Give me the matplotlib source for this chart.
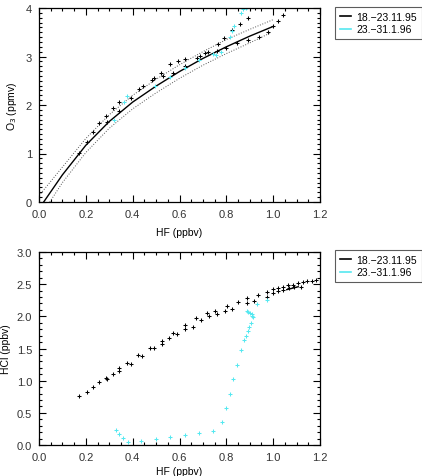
import matplotlib
matplotlib.use("Agg")
import matplotlib.pyplot as plt
from matplotlib.ticker import MultipleLocator, FormatStrFormatter

plt.rcParams["font.family"] = ["Liberation Sans", "DejaVu Sans"]

# ==========================================
# Data
# ==========================================

# Top panel - O3 vs HF, 18.-23.11.95
o3_hf_nov = [0.172, 0.206, 0.229, 0.258, 0.286, 0.292, 0.315, 0.340, 0.343, 0.391,
             0.428, 0.443, 0.481, 0.491, 0.521, 0.528, 0.559, 0.571, 0.592, 0.623,
             0.623, 0.673, 0.687, 0.709, 0.723, 0.760, 0.763, 0.791, 0.798, 0.825,
             0.847, 0.858, 0.891, 0.893, 0.922, 0.938, 0.976, 0.999, 1.019, 1.040]
o3_nov = [1.01, 1.24, 1.45, 1.63, 1.78, 1.64, 1.93, 2.07, 1.87, 2.14,
          2.33, 2.39, 2.52, 2.55, 2.67, 2.59, 2.85, 2.66, 2.91, 2.95,
          2.81, 2.96, 3.02, 3.07, 3.10, 3.12, 3.25, 3.39, 3.17, 3.54,
          3.27, 3.66, 3.79, 3.35, 3.99, 3.41, 3.51, 3.63, 3.73, 3.86]

# Top panel - O3 vs HF, 23.-31.1.96
o3_hf_jan = [0.322, 0.363, 0.376, 0.495, 0.559, 0.623, 0.683, 0.744, 0.757, 0.778,
             0.815, 0.826, 0.834, 0.862, 0.872, 0.882, 0.890]
o3_jan = [1.70, 2.07, 2.18, 2.40, 2.58, 2.76, 2.92, 3.05, 3.04, 3.10,
          3.41, 3.53, 3.62, 3.89, 3.97, 4.00, 4.02]

# Fit curve and its error band
fit_hf = [0.02, 0.10, 0.20, 0.30, 0.40, 0.50, 0.60, 0.70, 0.80, 0.90, 1.00]
fit_o3 = [0.00, 0.56, 1.17, 1.66, 2.06, 2.39, 2.69, 2.96, 3.20, 3.42, 3.62]
upper_hf = [0.00, 0.10, 0.20, 0.30, 0.40, 0.50, 0.60, 0.70, 0.80, 0.90, 1.00]
upper_o3 = [0.13, 0.72, 1.31, 1.80, 2.20, 2.53, 2.83, 3.10, 3.35, 3.56, 3.76]
lower_hf = [0.046, 0.10, 0.20, 0.30, 0.40, 0.50, 0.60, 0.70, 0.80, 0.90, 0.99]
lower_o3 = [0.00, 0.40, 1.02, 1.52, 1.92, 2.25, 2.55, 2.82, 3.06, 3.28, 3.49]

# Bottom panel - HCl vs HF, 18.-23.11.95
hcl_hf_nov = [0.172, 0.204, 0.229, 0.258, 0.286, 0.289, 0.315, 0.340, 0.342, 0.374,
              0.391, 0.424, 0.441, 0.474, 0.491, 0.524, 0.524, 0.557, 0.574, 0.591,
              0.623, 0.623, 0.659, 0.670, 0.692, 0.716, 0.726, 0.751, 0.759, 0.794,
              0.801, 0.823, 0.848, 0.889, 0.889, 0.919, 0.936, 0.972, 0.975, 1.000,
              1.000, 1.022, 1.022, 1.043, 1.044, 1.065, 1.066, 1.086, 1.090, 1.107,
              1.120, 1.129, 1.146, 1.165, 1.183]
hcl_nov = [0.76, 0.83, 0.90, 0.975, 1.04, 1.02, 1.11, 1.15, 1.19, 1.27,
           1.26, 1.40, 1.39, 1.51, 1.51, 1.62, 1.57, 1.66, 1.74, 1.73,
           1.87, 1.80, 1.83, 1.97, 1.95, 2.05, 2.00, 2.09, 2.04, 2.08,
           2.16, 2.12, 2.22, 2.28, 2.20, 2.24, 2.33, 2.38, 2.30, 2.42,
           2.37, 2.44, 2.40, 2.46, 2.41, 2.48, 2.44, 2.49, 2.45, 2.52,
           2.45, 2.53, 2.55, 2.555, 2.57]
hcl_line_hf = [1.058, 1.080, 1.107]
hcl_line = [2.415, 2.435, 2.46]

# Bottom panel - HCl vs HF, 23.-31.1.96
hcl_hf_jan = [0.327, 0.343, 0.360, 0.379, 0.434, 0.498, 0.560, 0.623, 0.683, 0.745,
              0.780, 0.797, 0.816, 0.830, 0.847, 0.862, 0.877, 0.884, 0.891, 0.898,
              0.904, 0.911, 0.887, 0.894, 0.901, 0.908, 0.912, 0.930, 0.972]
hcl_jan = [0.233, 0.171, 0.104, 0.052, 0.062, 0.093, 0.124, 0.160, 0.190, 0.22,
           0.36, 0.58, 0.80, 1.03, 1.24, 1.47, 1.63, 1.70, 1.77, 1.83,
           1.90, 2.01, 2.09, 2.07, 2.05, 2.03, 1.99, 2.19, 2.26]

labels = ["18.\u221223.11.95", "23.\u221231.1.96"]
cyan = "#55e8f0"

# ==========================================
# Figure
# ==========================================

fig = plt.figure(figsize=(4.22, 4.77), dpi=100)

W, H = 422.0, 477.0
ax1 = fig.add_axes([39 / W, 1 - 203 / H, 281 / W, 194 / H])
ax2 = fig.add_axes([39 / W, 1 - 446 / H, 281 / W, 193 / H])

mk = dict(marker="+", linestyle="none", markersize=3, markeredgewidth=0.75)

# Top panel
ax1.plot(upper_hf, upper_o3, color="#555555", linestyle=":", linewidth=0.7)
ax1.plot(lower_hf, lower_o3, color="#555555", linestyle=":", linewidth=0.7)
ax1.plot(fit_hf, fit_o3, color="black", linewidth=1.0)
ax1.plot(o3_hf_nov, o3_nov, color="black", **mk)
ax1.plot(o3_hf_jan, o3_jan, color=cyan, **mk)
ax1.set_xlim(0, 1.2)
ax1.set_ylim(0, 4)
ax1.yaxis.set_major_locator(MultipleLocator(1))
ax1.yaxis.set_minor_locator(MultipleLocator(0.1))
ax1.yaxis.set_major_formatter(FormatStrFormatter("%d"))
ax1.set_ylabel("O$_3$ (ppmv)", fontsize=7.5, labelpad=5)
ax1.set_xlabel("HF (ppbv)", fontsize=7.5, labelpad=6)

# Bottom panel
ax2.plot(hcl_hf_nov, hcl_nov, color="black", **mk)
ax2.plot(hcl_line_hf, hcl_line, color="black", linewidth=1.0)
ax2.plot(hcl_hf_jan, hcl_jan, color=cyan, **mk)
ax2.set_xlim(0, 1.2)
ax2.set_ylim(0, 3)
ax2.yaxis.set_major_locator(MultipleLocator(0.5))
ax2.yaxis.set_minor_locator(MultipleLocator(0.1))
ax2.yaxis.set_major_formatter(FormatStrFormatter("%.1f"))
ax2.set_ylabel("HCl (ppbv)", fontsize=7.5, labelpad=4)
ax2.set_xlabel("HF (ppbv)", fontsize=7.5, labelpad=3)

for ax in (ax1, ax2):
    ax.xaxis.set_major_locator(MultipleLocator(0.2))
    ax.xaxis.set_minor_locator(MultipleLocator(0.05))
    ax.xaxis.set_major_formatter(FormatStrFormatter("%.1f"))
    ax.tick_params(which="both", direction="in", top=True, right=True,
                   labelsize=8, labelcolor="#333333", width=0.8)
    ax.tick_params(which="major", length=5, pad=5)
    ax.tick_params(which="minor", length=2.5)
    for s in ax.spines.values():
        s.set_linewidth(0.9)

# Legends
handles = [plt.Line2D([], [], color="black", linewidth=1.2),
           plt.Line2D([], [], color=cyan, linewidth=1.2)]
for ytop in (8, 251):
    leg = fig.legend(handles, labels, loc="upper left",
                     bbox_to_anchor=(335 / W, 1 - ytop / H),
                     fontsize=7.5, frameon=True, fancybox=False,
                     edgecolor="#333333", handlelength=1.1, handletextpad=0.5,
                     borderpad=0.45, labelspacing=0.25, borderaxespad=0)
    leg.get_frame().set_linewidth(0.8)

fig.savefig("out.png", dpi=100)
